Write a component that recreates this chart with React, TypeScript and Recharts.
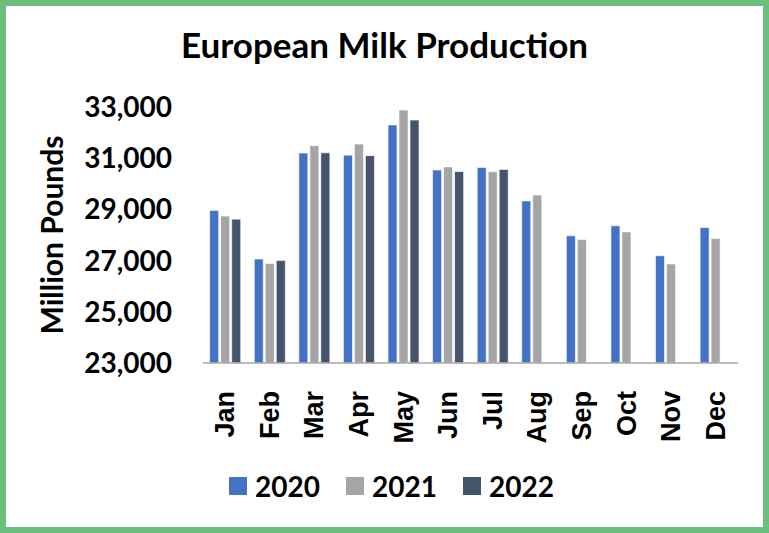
import { BarChart, Bar, XAxis, YAxis } from 'recharts';

const months = ['Jan', 'Feb', 'Mar', 'Apr', 'May', 'Jun', 'Jul', 'Aug', 'Sep', 'Oct', 'Nov', 'Dec'];
const y2020 = [28960, 27060, 31200, 31120, 32300, 30540, 30640, 29330, 27970, 28360, 27190, 28290];
const y2021 = [28740, 26890, 31490, 31550, 32880, 30660, 30470, 29560, 27820, 28120, 26870, 27860];
const y2022 = [28620, 27000, 31210, 31100, 32490, 30480, 30560, null, null, null, null, null];
const yTicks = [23000, 25000, 27000, 29000, 31000, 33000];

const series = [
  { key: '2020', color: '#4472C4' },
  { key: '2021', color: '#A5A5A5' },
  { key: '2022', color: '#44546A' },
];

const data = months.map((m, i) => ({ month: m, '2020': y2020[i], '2021': y2021[i], '2022': y2022[i] }));

const labelFont = 'Lato, "Open Sans", sans-serif';

const MonthTick = (props: any) => {
  const { x, y, payload } = props;
  return (
    <text
      x={0}
      y={0}
      transform={`translate(${x + 9},${y + 20}) rotate(-90)`}
      textAnchor="end"
      fontFamily='"Liberation Sans", Arial, sans-serif'
      fontWeight="bold"
      fontSize={27}
      fill="#000"
    >
      {payload.value}
    </text>
  );
};

const App = () => {
  return (
    <div
      style={{
        position: 'absolute',
        left: 0,
        top: 0,
        width: 769,
        height: 533,
        boxSizing: 'border-box',
        border: '6px solid #6BBE7B',
        background: '#fff',
      }}
    >
      <div
        style={{
          position: 'absolute',
          left: -6,
          width: 769,
          top: 18,
          textAlign: 'center',
          fontFamily: labelFont,
          fontWeight: 700,
          fontSize: 35,
          color: '#000',
          lineHeight: '40px',
        }}
      >
        European Milk Production
      </div>
      <div style={{ position: 'absolute', left: -6, top: -6 }}>
        <BarChart
          width={769}
          height={533}
          data={data}
          margin={{ top: 107, right: 31, bottom: 40, left: 0 }}
          barCategoryGap="15%"
          barGap={2}
        >
          <XAxis
            dataKey="month"
            tick={<MonthTick />}
            tickLine={false}
            interval={0}
            axisLine={{ stroke: '#A6A6A6', strokeWidth: 1.5 }}
            height={130}
          />
          <YAxis
            width={203}
            domain={[23000, 33000]}
            ticks={yTicks}
            allowDataOverflow
            axisLine={false}
            tickLine={false}
            tickSize={0}
            tickMargin={31}
            tickFormatter={(v: number) => v.toLocaleString('en-US')}
            tick={{ fontFamily: labelFont, fontWeight: 700, fontSize: 28, fill: '#000' }}
            label={{
              value: 'Million Pounds',
              angle: -90,
              position: 'insideLeft',
              offset: 0,
              dx: 52,
              style: { fontFamily: labelFont, fontWeight: 700, fontSize: 30, fill: '#000', textAnchor: 'middle' },
            }}
          />
          {series.map((s) => (
            <Bar
              key={s.key}
              dataKey={s.key}
              fill={s.color}
              stroke="#ffffff"
              strokeWidth={0.6}
              isAnimationActive={false}
            />
          ))}
        </BarChart>
      </div>
      <div
        style={{
          position: 'absolute',
          left: 223,
          top: 465,
          display: 'flex',
          alignItems: 'center',
        }}
      >
        {series.map((s) => (
          <div key={s.key} style={{ display: 'flex', alignItems: 'center', marginRight: 26 }}>
            <span style={{ width: 18, height: 18, background: s.color, display: 'inline-block', marginRight: 8 }} />
            <span style={{ fontFamily: labelFont, fontWeight: 700, fontSize: 28, color: '#000', lineHeight: '30px' }}>
              {s.key}
            </span>
          </div>
        ))}
      </div>
    </div>
  );
};

export default App;
